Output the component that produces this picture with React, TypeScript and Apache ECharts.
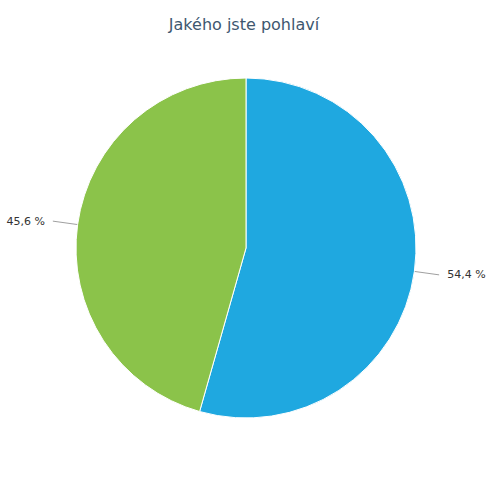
import React, { useEffect, useRef } from "react";
import * as echarts from "echarts";

const categories = ["Muž", "Žena"];
const values = [54.4, 45.6];
const colors = ["#1fa8e0", "#8bc34a"];
const titleText = "Jakého jste pohlaví";

export default function App() {
  const ref = useRef<HTMLDivElement>(null);
  useEffect(() => {
    document.body.style.margin = "0";
    const chart = echarts.init(ref.current!, null, { renderer: "svg" });
    chart.setOption({
      animation: false,
      title: {
        text: titleText,
        left: "center",
        top: 11,
        textStyle: {
          fontFamily: "DejaVu Sans",
          fontSize: 16,
          fontWeight: "normal",
          color: "#3e576f",
        },
      },
      series: [
        {
          type: "pie",
          center: [246, 248],
          radius: 170,
          startAngle: 90,
          clockwise: true,
          data: categories.map((c, i) => ({
            name: c,
            value: values[i],
            itemStyle: { color: colors[i] },
          })),
          itemStyle: { borderColor: "#ffffff", borderWidth: 1 },
          label: {
            show: true,
            formatter: (p: any) => String(p.value).replace(".", ",") + " %",
            fontFamily: "DejaVu Sans",
            fontSize: 11,
            color: "#333333",
            overflow: "none",
            distanceToLabelLine: 8,
          },
          labelLine: {
            show: true,
            length: 25,
            length2: 0,
            lineStyle: { color: "#a0a0a0", width: 1 },
          },
          emphasis: { disabled: true },
        },
      ],
    });
    return () => chart.dispose();
  }, []);
  return <div ref={ref} style={{ width: 488, height: 492 }} />;
}
